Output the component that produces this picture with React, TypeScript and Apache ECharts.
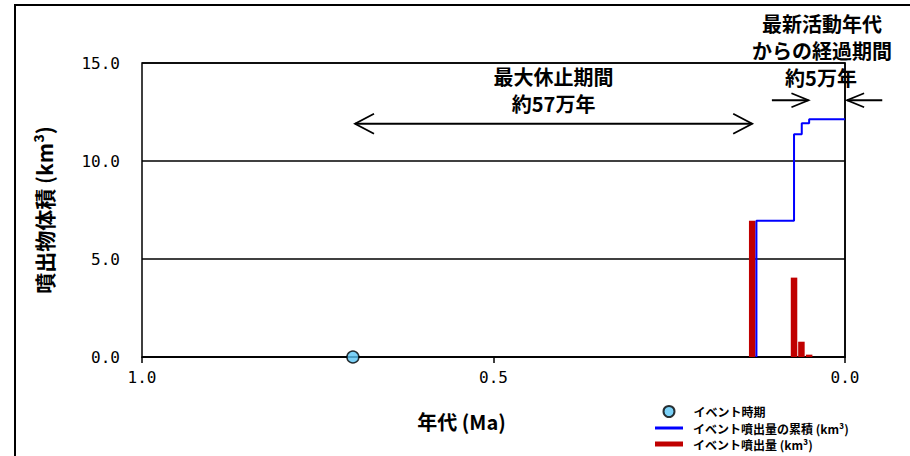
import React, { useEffect, useRef } from 'react';
import * as echarts from 'echarts';

// Data
const eventAges = [0.70];
const eventValues = [0];
const barAges = [0.132, 0.0725, 0.062, 0.051];
const barVolumes = [6.95, 4.05, 0.78, 0.12];
const stepAges = [0.126, 0.126, 0.0725, 0.0615, 0.051, 0];
const cumulativeVolumes = [0, 6.95, 11.36, 11.92, 12.13, 12.13];

const xMin = 0;
const xMax = 1.0;
const xInterval = 0.5;
const yMin = 0;
const yMax = 15;
const yInterval = 5;

const nameEvent = 'イベント時期';
const nameCum = 'イベント噴出量の累積 (km³)';
const nameBar = 'イベント噴出量 (km³)';

// annotation anchors (data space)
const restStart = 0.697;
const restEnd = 0.132;
const restArrowY = 11.9;
const recentStart = 0.104;
const recentEnd = 0.052;
const nowStart = -0.053;
const nowEnd = -0.003;
const recentArrowY = 13.1;

const CJK = '"Noto Sans CJK JP", "Noto Sans", sans-serif';
const MONO = '"DejaVu Sans Mono", monospace';

export default function App() {
  const ref = useRef<HTMLDivElement>(null);
  useEffect(() => {
    if (!ref.current) return;
    const chart = echarts.init(ref.current, undefined, { renderer: 'svg' });
    const legendText = {
      color: '#000',
      fontFamily: CJK,
      fontWeight: 'bold',
      fontSize: 12,
      lineHeight: 13,
    };
    chart.setOption({
      animation: false,
      backgroundColor: '#fff',
      grid: {
        left: 142,
        top: 63,
        right: 65,
        bottom: 99,
        show: true,
        borderColor: '#000',
        borderWidth: 1.5,
      },
      xAxis: {
        type: 'value',
        inverse: true,
        min: xMin,
        max: xMax,
        interval: xInterval,
        name: '年代 (Ma)',
        nameLocation: 'middle',
        nameGap: 54,
        nameTextStyle: {
          color: '#000',
          fontFamily: CJK,
          fontWeight: 'bold',
          fontSize: 20,
          padding: [0, 64, 0, 0],
        },
        axisLine: { show: true, lineStyle: { color: '#000', width: 1.5 } },
        axisTick: { show: true, length: 6, lineStyle: { color: '#000', width: 1.5 } },
        axisLabel: {
          color: '#000',
          fontFamily: MONO,
          fontSize: 16,
          margin: 12,
          formatter: (v: number) => v.toFixed(1),
        },
        splitLine: { show: false },
      },
      yAxis: {
        type: 'value',
        min: yMin,
        max: yMax,
        interval: yInterval,
        name: '噴出物体積 (km³)',
        nameLocation: 'middle',
        nameRotate: 90,
        nameGap: 88,
        nameTextStyle: {
          color: '#000',
          fontFamily: CJK,
          fontWeight: 'bold',
          fontSize: 21,
        },
        axisLine: { show: true, lineStyle: { color: '#000', width: 1.5 } },
        axisTick: { show: false },
        axisLabel: {
          color: '#000',
          fontFamily: MONO,
          fontSize: 16,
          margin: 22,
          formatter: (v: number) => v.toFixed(1),
        },
        splitLine: { show: true, lineStyle: { color: '#000', width: 1.5 } },
      },
      legend: [
        {
          data: [{ name: nameEvent, icon: 'circle' }],
          left: 662.5,
          top: 405,
          padding: 0,
          itemWidth: 11,
          itemHeight: 11,
          selectedMode: false,
          textStyle: { ...legendText, padding: [0, 0, 0, 14] },
        },
        {
          data: [{ name: nameCum, icon: 'rect', itemStyle: { color: '#0000ff', borderWidth: 0 } }],
          left: 655,
          top: 421.5,
          padding: 0,
          itemWidth: 28,
          itemHeight: 3,
          selectedMode: false,
          textStyle: { ...legendText, padding: [0, 0, 0, 5] },
        },
        {
          data: [{ name: nameBar, icon: 'rect', itemStyle: { color: '#c00000', borderWidth: 0 } }],
          left: 655,
          top: 437.5,
          padding: 0,
          itemWidth: 28,
          itemHeight: 5,
          selectedMode: false,
          textStyle: { ...legendText, padding: [0, 0, 0, 5] },
        },
      ],
      series: [
        {
          name: nameBar,
          type: 'bar',
          barWidth: 6.5,
          itemStyle: { color: '#c00000' },
          data: barAges.map((a, i) => [a, barVolumes[i]]),
          z: 2,
        },
        {
          name: nameCum,
          type: 'line',
          step: 'end',
          symbol: 'none',
          color: '#0000ff',
          lineStyle: { color: '#0000ff', width: 2 },
          data: stepAges.map((a, i) => [a, cumulativeVolumes[i]]),
          z: 3,
        },
        {
          name: nameEvent,
          type: 'scatter',
          symbolSize: 12,
          itemStyle: { color: '#5bc5f5', borderColor: '#000', borderWidth: 1.5 },
          data: eventAges.map((a, i) => [a, eventValues[i]]),
          z: 10,
        },
      ],
    });

    const px = (a: number, v: number) =>
      chart.convertToPixel({ gridIndex: 0 }, [a, v]) as number[];

    const arrowEls = (
      xa: number,
      xb: number,
      y: number,
      leftHead: boolean,
      rightHead: boolean,
      len: number,
      half: number
    ) => {
      const els: any[] = [];
      const style = { stroke: '#000', lineWidth: 1.8, fill: 'none' };
      els.push({ type: 'line', shape: { x1: xa, y1: y, x2: xb, y2: y }, style });
      if (leftHead) {
        els.push({
          type: 'polyline',
          shape: { points: [[xa + len, y - half], [xa, y], [xa + len, y + half]] },
          style,
        });
      }
      if (rightHead) {
        els.push({
          type: 'polyline',
          shape: { points: [[xb - len, y - half], [xb, y], [xb - len, y + half]] },
          style,
        });
      }
      return els;
    };

    const r1 = px(restStart, restArrowY);
    const r2 = px(restEnd, restArrowY);
    const s1 = px(recentStart, recentArrowY);
    const s2 = px(recentEnd, recentArrowY);
    const n1 = px(nowStart, recentArrowY);
    const n2 = px(nowEnd, recentArrowY);

    const titleStyle = (text: string, x: number, y: number) => ({
      type: 'text',
      x,
      y,
      style: {
        text,
        fill: '#000',
        font: `bold 20px ${CJK}`,
        lineHeight: 21,
        align: 'center',
        verticalAlign: 'middle',
      },
    });

    const restCenterX = (r1[0] + r2[0]) / 2;

    chart.setOption({
      graphic: [
        {
          type: 'rect',
          shape: { x: 15, y: 5, width: 1200, height: 1000 },
          style: { fill: 'none', stroke: '#000', lineWidth: 2 },
          silent: true,
        },
        ...arrowEls(r1[0], r2[0], r1[1], true, true, 19, 10),
        ...arrowEls(s1[0], s2[0], s1[1], false, true, 17, 7),
        ...arrowEls(n2[0], n1[0], n1[1], true, false, 17, 7),
        titleStyle('最大休止期間', restCenterX, 76),
        titleStyle('約57万年', restCenterX, 103),
        titleStyle('最新活動年代', 822, 23.5),
        titleStyle('からの経過期間', 822, 50.5),
        titleStyle('約5万年', 821, 77.5),
      ],
    });

    return () => chart.dispose();
  }, []);

  return (
    <div
      ref={ref}
      style={{ position: 'fixed', left: 0, top: 0, width: 910, height: 456 }}
    />
  );
}
